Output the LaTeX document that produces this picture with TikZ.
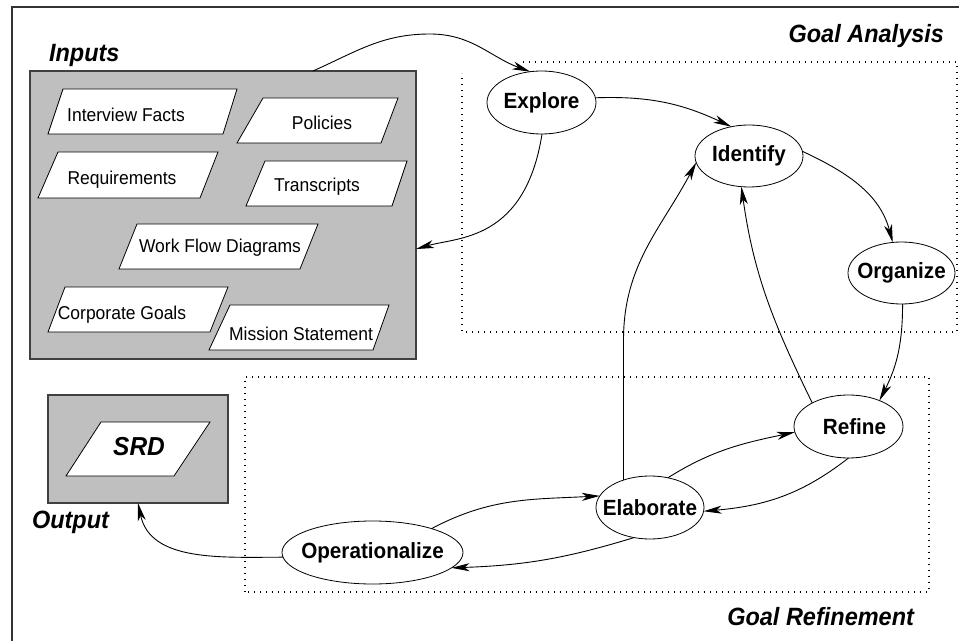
\documentclass[tikz,border=0pt]{standalone}
\usepackage{fontspec}
\setmainfont{Liberation Sans}[FakeStretch=0.94]
\usetikzlibrary{arrows.meta,shapes.geometric}

% label of an oval: zero width, so the oval keeps its own size
\newcommand\ovaltext[1]{\makebox[0pt]{#1}}

\begin{document}
\begin{tikzpicture}[x=1pt,y=1pt,
  every node/.style={inner sep=0pt, outer sep=0pt},
  paper/.style={draw=black, fill=white, line width=0.8pt, line join=miter},
  src/.style={font=\fontsize{18.6}{21}\selectfont, anchor=base},
  bubble/.style={ellipse, draw=black, line width=0.8pt, fill=white,
    minimum width=108pt, minimum height=63pt,
    font=\bfseries\fontsize{22}{26}\selectfont},
  tray/.style={rectangle, draw=black!75, line width=1.1pt, fill=black!25},
  heading/.style={font=\bfseries\itshape\fontsize{25}{30}\selectfont, anchor=base},
  region/.style={line width=1.1pt, dash pattern=on 1.1pt off 4.9pt},
  flow/.style={line width=0.9pt, -{Stealth[length=18pt,width=8pt,inset=5pt]}},
]
\useasboundingbox (0,0) rectangle (959,641);

% frame
\draw[line width=1.3pt, black!80] (12,0) -- (12,634) -- (959,634);

% dotted regions
\draw[region] (523,579) -- (957,579) -- (957,309) -- (462,309) -- (462,568);
\draw[region] (245,49) rectangle (929,264);

% input and output trays
\node[tray, minimum width=386pt, minimum height=288pt] (inputs) at (223,426) {};
\node[tray, minimum width=180pt, minimum height=108pt] (output) at (138,192) {};

% source documents
\draw[paper] (48,507) -- (223,507) -- (237,552) -- (63,552) -- cycle;
\node[src] (facts) at (126,519) {Interview Facts};
\draw[paper] (237,498) -- (381,498) -- (398,543) -- (263,543) -- cycle;
\node[src] (policies) at (322,511) {Policies};
\draw[paper] (38,443) -- (200,443) -- (218,489) -- (58,489) -- cycle;
\node[src] (reqs) at (122,456) {Requirements};
\draw[paper] (246,435) -- (392,435) -- (407,480) -- (265,480) -- cycle;
\node[src] (transcripts) at (317,449) {Transcripts};
\draw[paper] (119,372) -- (300,372) -- (318,417) -- (137,417) -- cycle;
\node[src] (workflow) at (220,388) {Work Flow Diagrams};
\draw[paper] (48,309) -- (210,309) -- (228,354) -- (65,354) -- cycle;
\node[src] (corpgoals) at (122,321) {Corporate Goals};
\draw[paper] (209,291) -- (373,291) -- (389,336) -- (230,336) -- cycle;
\node[src] (mission) at (301,300) {Mission Statement};

% output document
\draw[paper] (66,165) -- (174,165) -- (210,219) -- (101,219) -- cycle;
\node[heading, font=\bfseries\itshape\fontsize{26}{30}\selectfont] (srd) at (139,186) {SRD};

% activities
\node[bubble, minimum width=109pt] (explore) at (541.5,538.5) {\ovaltext{Explore}};
\node[bubble, minimum height=62pt] (identify) at (749,485) {\ovaltext{Identify}};
\node[bubble, minimum width=107pt, minimum height=62pt] (organize) at (901.5,368) {\ovaltext{Organize}};
\node[bubble, minimum width=109pt] (refine) at (848.5,214.5) {\ovaltext{\hspace{12pt}Refine}};
\node[bubble] (elaborate) at (650,133.5) {\ovaltext{Elaborate}};
\node[bubble, minimum width=181pt] (oper) at (372.5,88.5) {\ovaltext{Operationalize}};

% headings
\node[heading, anchor=base west] (inputslbl) at (49,579) {Inputs};
\node[heading, anchor=base east] (analysislbl) at (944,598) {Goal Analysis};
\node[heading, anchor=base west] (outputlbl) at (32,113) {Output};
\node[heading, anchor=base east] (refinelbl) at (914,16) {Goal Refinement};

% flows
\coordinate (apex) at (430,607);
\draw[flow] (inputs.58.9) to[out=24,in=180] (apex) to[out=0,in=160] (explore.110);
\draw[flow] (explore.5) to[out=2,in=155] (identify.121);
\draw[flow] (explore.-89) .. controls (525,400) and (458,404) .. (inputs.-10.2);
\draw[flow] (identify.5) to[out=-25,in=105] (organize.106);
\draw[flow] (organize.-88) to[out=-90,in=63] (refine.40);
\draw[flow] (refine.147) to[out=116,in=-82] (identify.-104);
\draw[flow] (elaborate.134) -- ++(0,140) to[out=90,in=-118] (identify.187);
\draw[flow] (elaborate.59.5) to[out=32,in=192] (refine.186);
\draw[flow] (refine.-90) to[out=-142,in=5] (elaborate.-4);
\draw[flow] (oper.22) to[out=28,in=183] (elaborate.167);
\draw[flow] (elaborate.-118) to[out=197,in=2] (oper.-11);
\draw[flow] (oper.183) to[out=180,in=-78] (output.south);
\end{tikzpicture}
\end{document}
